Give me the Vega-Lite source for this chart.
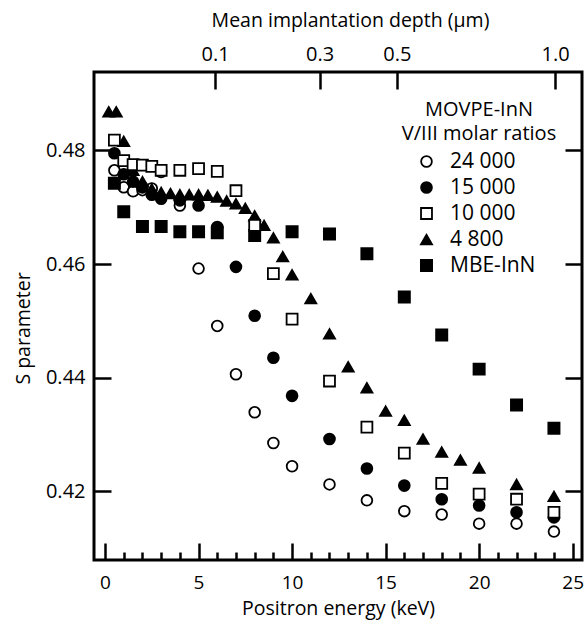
{
  "$schema": "https://vega.github.io/schema/vega-lite/v6.json",
  "width": 488,
  "height": 488,
  "autosize": {"type": "none"},
  "padding": {"left": 94, "top": 72, "right": 4, "bottom": 64},
  "config": {
    "view": {"stroke": "black", "strokeWidth": 3},
    "font": "Open Sans",
    "axis": {
      "domain": false, "grid": false,
      "labelFont": "Open Sans", "titleFont": "Open Sans",
      "labelColor": "black", "titleColor": "black", "tickColor": "black",
      "tickWidth": 2.5, "labelFontSize": 20, "titleFontSize": 19.5,
      "titleFontWeight": "normal", "labelOverlap": false, "labelFlush": false, "labelBound": false
    },
    "legend": {
      "orient": "none", "legendX": 308, "legendY": 28,
      "titleFontSize": 20, "titleFontWeight": "normal", "titleAlign": "center", "titleAnchor": "middle",
      "titleColor": "black", "titleLineHeight": 24, "titlePadding": 7, "titleFont": "Open Sans",
      "labelFontSize": 21, "labelColor": "black", "labelOffset": 13, "labelFont": "Open Sans",
      "symbolStrokeWidth": 1.8, "symbolOffset": -7,
      "rowPadding": 4
    }
  },
  "datasets": {
    "pts": [
      {"E": 0.5, "S": 0.4765, "series": "24 000"},
      {"E": 1, "S": 0.4735, "series": "24 000"},
      {"E": 1.5, "S": 0.4728, "series": "24 000"},
      {"E": 2, "S": 0.4730, "series": "24 000"},
      {"E": 2.5, "S": 0.4733, "series": "24 000"},
      {"E": 3, "S": 0.4762, "series": "24 000"},
      {"E": 4, "S": 0.4703, "series": "24 000"},
      {"E": 5, "S": 0.4592, "series": "24 000"},
      {"E": 6, "S": 0.4491, "series": "24 000"},
      {"E": 7, "S": 0.4406, "series": "24 000"},
      {"E": 8, "S": 0.4339, "series": "24 000"},
      {"E": 9, "S": 0.4285, "series": "24 000"},
      {"E": 10, "S": 0.4244, "series": "24 000"},
      {"E": 12, "S": 0.4212, "series": "24 000"},
      {"E": 14, "S": 0.4184, "series": "24 000"},
      {"E": 16, "S": 0.4165, "series": "24 000"},
      {"E": 18, "S": 0.4159, "series": "24 000"},
      {"E": 20, "S": 0.4143, "series": "24 000"},
      {"E": 22, "S": 0.4143, "series": "24 000"},
      {"E": 24, "S": 0.4129, "series": "24 000"},
      {"E": 0.5, "S": 0.4795, "series": "15 000"},
      {"E": 1, "S": 0.4758, "series": "15 000"},
      {"E": 1.5, "S": 0.4745, "series": "15 000"},
      {"E": 2, "S": 0.4735, "series": "15 000"},
      {"E": 2.5, "S": 0.4722, "series": "15 000"},
      {"E": 3, "S": 0.4715, "series": "15 000"},
      {"E": 4, "S": 0.4712, "series": "15 000"},
      {"E": 5, "S": 0.4703, "series": "15 000"},
      {"E": 6, "S": 0.4665, "series": "15 000"},
      {"E": 7, "S": 0.4595, "series": "15 000"},
      {"E": 8, "S": 0.4509, "series": "15 000"},
      {"E": 9, "S": 0.4435, "series": "15 000"},
      {"E": 10, "S": 0.4368, "series": "15 000"},
      {"E": 12, "S": 0.4292, "series": "15 000"},
      {"E": 14, "S": 0.4240, "series": "15 000"},
      {"E": 16, "S": 0.4210, "series": "15 000"},
      {"E": 18, "S": 0.4186, "series": "15 000"},
      {"E": 20, "S": 0.4175, "series": "15 000"},
      {"E": 22, "S": 0.4163, "series": "15 000"},
      {"E": 24, "S": 0.4154, "series": "15 000"},
      {"E": 0.2, "S": 0.4868, "series": "4 800"},
      {"E": 0.6, "S": 0.4868, "series": "4 800"},
      {"E": 1, "S": 0.4816, "series": "4 800"},
      {"E": 1.5, "S": 0.4765, "series": "4 800"},
      {"E": 2, "S": 0.4745, "series": "4 800"},
      {"E": 2.5, "S": 0.4732, "series": "4 800"},
      {"E": 3, "S": 0.4726, "series": "4 800"},
      {"E": 3.5, "S": 0.4724, "series": "4 800"},
      {"E": 4, "S": 0.4722, "series": "4 800"},
      {"E": 4.5, "S": 0.4722, "series": "4 800"},
      {"E": 5, "S": 0.4722, "series": "4 800"},
      {"E": 5.5, "S": 0.4721, "series": "4 800"},
      {"E": 6, "S": 0.4718, "series": "4 800"},
      {"E": 6.5, "S": 0.4711, "series": "4 800"},
      {"E": 7, "S": 0.4706, "series": "4 800"},
      {"E": 7.5, "S": 0.4698, "series": "4 800"},
      {"E": 8, "S": 0.4685, "series": "4 800"},
      {"E": 8.5, "S": 0.4668, "series": "4 800"},
      {"E": 9, "S": 0.4646, "series": "4 800"},
      {"E": 9.5, "S": 0.4613, "series": "4 800"},
      {"E": 10, "S": 0.4581, "series": "4 800"},
      {"E": 11, "S": 0.4539, "series": "4 800"},
      {"E": 12, "S": 0.4477, "series": "4 800"},
      {"E": 13, "S": 0.4419, "series": "4 800"},
      {"E": 14, "S": 0.4382, "series": "4 800"},
      {"E": 15, "S": 0.4341, "series": "4 800"},
      {"E": 16, "S": 0.4325, "series": "4 800"},
      {"E": 17, "S": 0.4292, "series": "4 800"},
      {"E": 18, "S": 0.4269, "series": "4 800"},
      {"E": 19, "S": 0.4255, "series": "4 800"},
      {"E": 20, "S": 0.4241, "series": "4 800"},
      {"E": 22, "S": 0.4212, "series": "4 800"},
      {"E": 24, "S": 0.4191, "series": "4 800"},
      {"E": 0.5, "S": 0.4742, "series": "MBE-InN"},
      {"E": 1, "S": 0.4692, "series": "MBE-InN"},
      {"E": 2, "S": 0.4666, "series": "MBE-InN"},
      {"E": 3, "S": 0.4666, "series": "MBE-InN"},
      {"E": 4, "S": 0.4657, "series": "MBE-InN"},
      {"E": 5, "S": 0.4657, "series": "MBE-InN"},
      {"E": 6, "S": 0.4655, "series": "MBE-InN"},
      {"E": 8, "S": 0.4650, "series": "MBE-InN"},
      {"E": 10, "S": 0.4657, "series": "MBE-InN"},
      {"E": 12, "S": 0.4653, "series": "MBE-InN"},
      {"E": 14, "S": 0.4618, "series": "MBE-InN"},
      {"E": 16, "S": 0.4542, "series": "MBE-InN"},
      {"E": 18, "S": 0.4475, "series": "MBE-InN"},
      {"E": 20, "S": 0.4415, "series": "MBE-InN"},
      {"E": 22, "S": 0.4352, "series": "MBE-InN"},
      {"E": 24, "S": 0.4311, "series": "MBE-InN"},
      {"E": 0.5, "S": 0.4818, "series": "10 000"},
      {"E": 1, "S": 0.4782, "series": "10 000"},
      {"E": 1.5, "S": 0.4775, "series": "10 000"},
      {"E": 2, "S": 0.4774, "series": "10 000"},
      {"E": 2.5, "S": 0.4772, "series": "10 000"},
      {"E": 3, "S": 0.4765, "series": "10 000"},
      {"E": 4, "S": 0.4765, "series": "10 000"},
      {"E": 5, "S": 0.4768, "series": "10 000"},
      {"E": 6, "S": 0.4763, "series": "10 000"},
      {"E": 7, "S": 0.4729, "series": "10 000"},
      {"E": 8, "S": 0.4668, "series": "10 000"},
      {"E": 9, "S": 0.4583, "series": "10 000"},
      {"E": 10, "S": 0.4503, "series": "10 000"},
      {"E": 12, "S": 0.4394, "series": "10 000"},
      {"E": 14, "S": 0.4313, "series": "10 000"},
      {"E": 16, "S": 0.4267, "series": "10 000"},
      {"E": 18, "S": 0.4214, "series": "10 000"},
      {"E": 20, "S": 0.4195, "series": "10 000"},
      {"E": 22, "S": 0.4186, "series": "10 000"},
      {"E": 24, "S": 0.4163, "series": "10 000"}
    ]
  },
  "layer": [
    {
      "data": {"name": "pts"},
      "mark": {"type": "point", "filled": true, "strokeWidth": 1.8, "opacity": 1},
      "encoding": {
        "x": {
          "field": "E", "type": "quantitative",
          "scale": {"domain": [-0.59, 25.5], "nice": false, "zero": false},
          "axis": {
            "orient": "bottom", "title": "Positron energy (keV)",
            "values": [0,1,2,3,4,5,6,7,8,9,10,11,12,13,14,15,16,17,18,19,20,21,22,23,24,25],
            "tickSize": {"condition": {"test": "datum.value % 5 === 0", "value": -17}, "value": -8},
            "labelExpr": "datum.value % 5 === 0 ? datum.label : ''",
            "labelFontSize": 19, "labelPadding": 30, "titlePadding": -2
          }
        },
        "y": {
          "field": "S", "type": "quantitative",
          "scale": {"domain": [0.4079, 0.4938], "nice": false, "zero": false},
          "axis": {
            "orient": "left", "title": "S parameter",
            "values": [0.42, 0.44, 0.46, 0.48], "format": ".2f",
            "tickSize": -17, "labelPadding": 26, "titlePadding": 12, "titleY": 256
          }
        },
        "shape": {
          "field": "series", "type": "nominal",
          "scale": {"domain": ["24 000", "15 000", "10 000", "4 800", "MBE-InN"], "range": ["circle", "circle", "square", "triangle-up", "square"]},
          "legend": {"title": ["MOVPE-InN", "V/III molar ratios"]}
        },
        "fill": {
          "field": "series", "type": "nominal",
          "scale": {"domain": ["24 000", "15 000", "10 000", "4 800", "MBE-InN"], "range": ["white", "black", "white", "black", "black"]},
          "legend": {"title": ["MOVPE-InN", "V/III molar ratios"]}
        },
        "stroke": {
          "field": "series", "type": "nominal",
          "scale": {"domain": ["24 000", "15 000", "10 000", "4 800", "MBE-InN"], "range": ["black", "black", "black", "black", "black"]},
          "legend": {"title": ["MOVPE-InN", "V/III molar ratios"]}
        },
        "size": {
          "field": "series", "type": "nominal",
          "scale": {"domain": ["24 000", "15 000", "10 000", "4 800", "MBE-InN"], "range": [115, 125, 115, 200, 130]},
          "legend": {"title": ["MOVPE-InN", "V/III molar ratios"]}
        }
      }
    },
    {
      "data": {"name": "pts"},
      "mark": {"type": "point", "opacity": 0},
      "encoding": {
        "x": {
          "field": "E", "type": "quantitative",
          "scale": {"domain": [-0.59, 25.5], "nice": false, "zero": false},
          "axis": {
            "orient": "top", "title": "Mean implantation depth (μm)",
            "values": [5.88, 11.47, 15.6, 24.06],
            "labelExpr": "datum.value < 8 ? '0.1' : datum.value < 13 ? '0.3' : datum.value < 20 ? '0.5' : '1.0'",
            "tickSize": -17, "labelPadding": 25, "titlePadding": 14, "titleX": 256
          }
        },
        "y": {
          "field": "S", "type": "quantitative",
          "scale": {"domain": [0.4079, 0.4938], "nice": false, "zero": false},
          "axis": {"orient": "right", "values": [0.42, 0.44, 0.46, 0.48], "labels": false, "title": null, "tickSize": -17}
        }
      }
    }
  ],
  "resolve": {"scale": {"x": "independent", "y": "independent"}}
}
